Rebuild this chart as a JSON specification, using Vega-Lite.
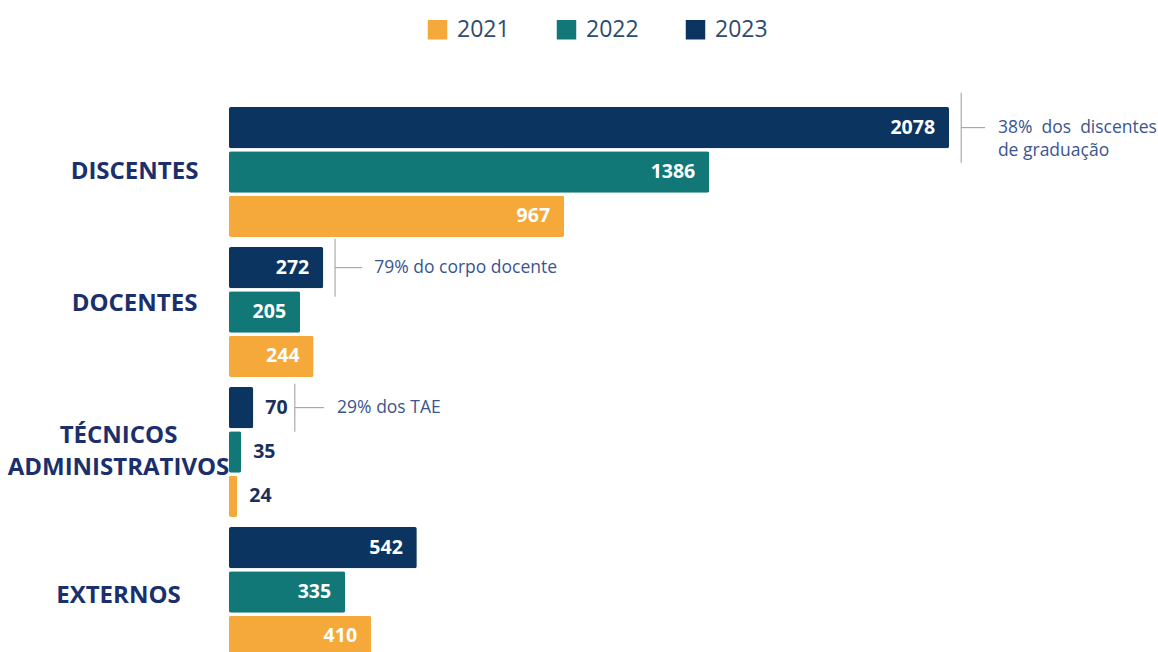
{
  "$schema": "https://vega.github.io/schema/vega-lite/v6.json",
  "autosize": "none",
  "width": 929,
  "height": 560,
  "padding": {"left": 229, "top": 102, "right": 0, "bottom": 0},
  "background": "white",
  "config": {
    "font": "Open Sans",
    "view": {"stroke": null}
  },
  "datasets": {
    "bars": [
      {"category": "DISCENTES", "year": "2023", "value": 2078},
      {"category": "DISCENTES", "year": "2022", "value": 1386},
      {"category": "DISCENTES", "year": "2021", "value": 967},
      {"category": "DOCENTES", "year": "2023", "value": 272},
      {"category": "DOCENTES", "year": "2022", "value": 205},
      {"category": "DOCENTES", "year": "2021", "value": 244},
      {"category": "TÉCNICOS\nADMINISTRATIVOS", "year": "2023", "value": 70},
      {"category": "TÉCNICOS\nADMINISTRATIVOS", "year": "2022", "value": 35},
      {"category": "TÉCNICOS\nADMINISTRATIVOS", "year": "2021", "value": 24},
      {"category": "EXTERNOS", "year": "2023", "value": 542},
      {"category": "EXTERNOS", "year": "2022", "value": 335},
      {"category": "EXTERNOS", "year": "2021", "value": 410}
    ],
    "notes": [
      {"category": "DISCENTES", "year": "2023", "xv": 2113, "xh": 2182, "xt": 2219, "label": "38%\u00a0 dos\u00a0 discentes\nde graduação"},
      {"category": "DOCENTES", "year": "2023", "xv": 306, "xh": 384, "xt": 419, "label": "79% do corpo docente"},
      {"category": "TÉCNICOS\nADMINISTRATIVOS", "year": "2023", "xv": 190, "xh": 274, "xt": 312, "label": "29% dos TAE"}
    ]
  },
  "encoding": {
    "y": {
      "field": "category",
      "type": "nominal",
      "sort": ["DISCENTES", "DOCENTES", "TÉCNICOS\nADMINISTRATIVOS", "EXTERNOS"],
      "scale": {"paddingInner": 0.0714, "paddingOuter": 0.0357},
      "axis": {
        "title": null,
        "domain": false,
        "ticks": false,
        "tickSize": 0,
        "labelPadding": {
          "condition": {"test": "datum.value == 'DISCENTES' || datum.value == 'DOCENTES'", "value": 95},
          "value": 111
        },
        "labelOffset": {
          "condition": [
            {"test": "datum.value == 'DOCENTES'", "value": -8},
            {"test": "indexof(datum.value, 'TÉCNICOS') == 0", "value": -16},
            {"test": "datum.value == 'EXTERNOS'", "value": 4}
          ],
          "value": 0
        },
        "labelAlign": "center",
        "labelBaseline": "middle",
        "labelFont": "Open Sans",
        "labelFontWeight": "bold",
        "labelFontSize": 24,
        "labelColor": "#1A2F6B",
        "labelLineHeight": 32,
        "labelExpr": "split(datum.label, '\\n')",
        "labelLimit": 400
      }
    },
    "yOffset": {
      "field": "year",
      "type": "nominal",
      "scale": {"domain": ["2023", "2022", "2021"], "paddingInner": 0.068, "paddingOuter": 0}
    }
  },
  "layer": [
    {
      "data": {"name": "bars"},
      "mark": {"type": "bar", "cornerRadius": 2},
      "encoding": {
        "x": {"field": "value", "type": "quantitative", "scale": {"domain": [0, 2681], "nice": false, "zero": true}, "axis": null},
        "color": {
          "field": "year",
          "type": "nominal",
          "scale": {"domain": ["2021", "2022", "2023"], "range": ["#F5A93A", "#117777", "#0C3461"]},
          "legend": {
            "title": null,
            "orient": "none",
            "direction": "horizontal",
            "legendX": 197,
            "legendY": -84,
            "symbolType": "square",
            "symbolSize": 380,
            "symbolStrokeWidth": 0,
            "symbolOpacity": 1,
            "labelFont": "Open Sans",
            "labelFontSize": 23,
            "labelColor": "#2C4C70",
            "labelOffset": 8,
            "columnPadding": 45,
            "padding": 0
          }
        }
      }
    },
    {
      "data": {"name": "bars"},
      "transform": [{"filter": "datum.value >= 100"}],
      "mark": {"type": "text", "align": "right", "baseline": "middle", "dx": -14, "font": "Open Sans", "fontWeight": "bold", "fontSize": 19.5, "color": "white"},
      "encoding": {
        "x": {"field": "value", "type": "quantitative"},
        "text": {"field": "value", "type": "quantitative"}
      }
    },
    {
      "data": {"name": "bars"},
      "transform": [{"filter": "datum.value < 100"}],
      "mark": {"type": "text", "align": "left", "baseline": "middle", "dx": 12, "font": "Open Sans", "fontWeight": "bold", "fontSize": 19.5, "color": "#1A2F5B"},
      "encoding": {
        "x": {"field": "value", "type": "quantitative"},
        "text": {"field": "value", "type": "quantitative"}
      }
    },
    {
      "data": {"name": "notes"},
      "transform": [{"filter": "datum.category == 'DISCENTES'"}],
      "mark": {"type": "tick", "orient": "vertical", "size": 70, "thickness": 1, "color": "#9A9A9A", "opacity": 1, "yOffset": 5},
      "encoding": {
        "x": {"field": "xv", "type": "quantitative"}
      }
    },
    {
      "data": {"name": "notes"},
      "transform": [{"filter": "datum.category == 'DOCENTES'"}],
      "mark": {"type": "tick", "orient": "vertical", "size": 58, "thickness": 1, "color": "#9A9A9A", "opacity": 1, "yOffset": 2},
      "encoding": {
        "x": {"field": "xv", "type": "quantitative"}
      }
    },
    {
      "data": {"name": "notes"},
      "transform": [{"filter": "indexof(datum.category, 'TÉCNICOS') == 0"}],
      "mark": {"type": "tick", "orient": "vertical", "size": 48, "thickness": 1, "color": "#9A9A9A", "opacity": 1, "yOffset": 9},
      "encoding": {
        "x": {"field": "xv", "type": "quantitative"}
      }
    },
    {
      "data": {"name": "notes"},
      "mark": {"type": "rule", "color": "#9A9A9A", "strokeWidth": 1},
      "encoding": {
        "x": {"field": "xv", "type": "quantitative"},
        "x2": {"field": "xh"}
      }
    },
    {
      "data": {"name": "notes"},
      "mark": {"type": "text", "align": "left", "baseline": "middle", "lineBreak": "\n", "lineHeight": 23, "font": "Open Sans", "fontSize": 17.5, "color": "#3A5590"},
      "encoding": {
        "x": {"field": "xt", "type": "quantitative"},
        "text": {"field": "label"}
      }
    }
  ]
}
